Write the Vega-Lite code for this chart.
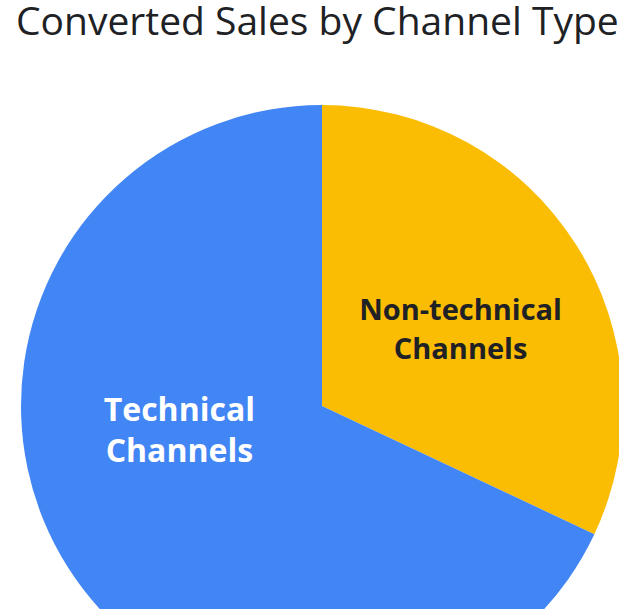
{
  "$schema": "https://vega.github.io/schema/vega-lite/v6.json",
  "width": 619,
  "height": 609,
  "autosize": {"type": "none"},
  "padding": 0,
  "background": "white",
  "title": {
    "text": "Converted Sales by Channel Type",
    "anchor": "start",
    "frame": "group",
    "offset": -74,
    "baseline": "alphabetic",
    "dx": 16,
    "fontSize": 39,
    "font": "Open Sans",
    "fontWeight": "normal",
    "color": "#202124"
  },
  "config": {"view": {"stroke": null}},
  "data": {
    "values": [
      {"label": "Non-technical Channels", "value": 32},
      {"label": "Technical Channels", "value": 68}
    ]
  },
  "encoding": {
    "theta": {"field": "value", "type": "quantitative", "stack": true},
    "order": {"field": "label", "sort": "ascending"},
    "x": {"datum": 0.5202, "type": "quantitative", "scale": {"domain": [0, 1]}, "axis": null},
    "y": {"datum": 0.6667, "type": "quantitative", "scale": {"domain": [0, 1], "reverse": true}, "axis": null}
  },
  "layer": [
    {
      "mark": {"type": "arc", "radius": 301},
      "encoding": {
        "color": {
          "field": "label",
          "type": "nominal",
          "scale": {"domain": ["Non-technical Channels", "Technical Channels"], "range": ["#FBBC04", "#4285F4"]},
          "legend": null
        }
      }
    },
    {
      "mark": {"type": "text", "radius": 157, "font": "Open Sans", "fontSize": 29, "fontWeight": "bold", "color": "#202124", "lineBreak": " ", "lineHeight": 39, "align": "center", "baseline": "middle", "dx": 6, "dy": -11},
      "encoding": {
        "text": {"condition": {"test": "datum.label == 'Non-technical Channels'", "field": "label"}, "value": ""}
      }
    },
    {
      "mark": {"type": "text", "radius": 150, "font": "Open Sans", "fontSize": 32, "fontWeight": "bold", "color": "white", "lineBreak": " ", "lineHeight": 41, "align": "center", "baseline": "middle", "dx": -16, "dy": -75},
      "encoding": {
        "text": {"condition": {"test": "datum.label == 'Technical Channels'", "field": "label"}, "value": ""}
      }
    }
  ]
}
